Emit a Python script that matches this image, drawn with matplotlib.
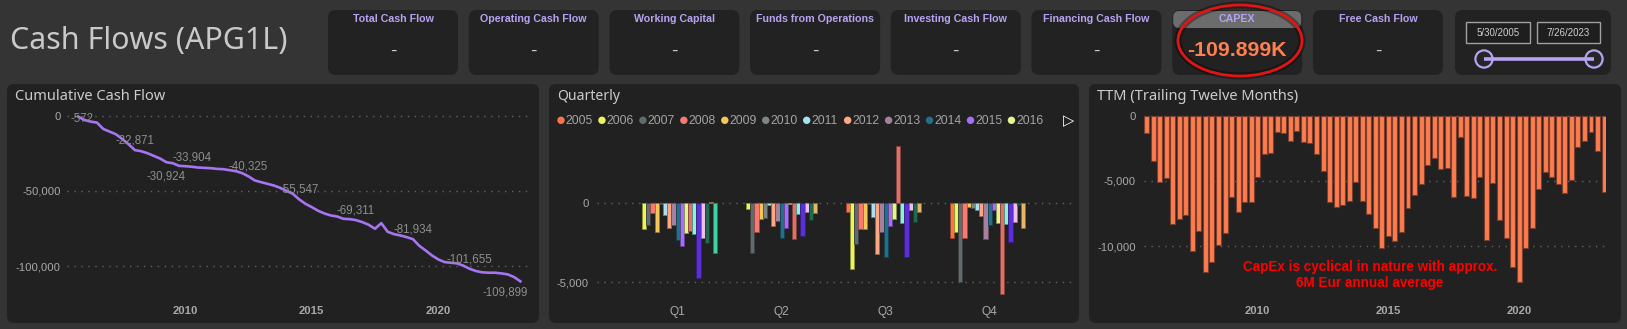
import numpy as np
import pandas as pd
import matplotlib
matplotlib.use('Agg')
import matplotlib.pyplot as plt
from matplotlib.patches import FancyBboxPatch, Ellipse, Circle, Rectangle
from matplotlib.ticker import FuncFormatter
from matplotlib.colors import to_rgb

W, H = 1627, 329

# ---- data ----
quarters = pd.period_range('2005Q4', '2023Q2', freq='Q')

cumulative = [-572, -2870, -3970, -4640, -8830, -10600, -12360, -15450, -19000, -22871,
              -23620, -24950, -26710, -28480, -30924, -31570, -33330, -33550, -33904, -34440,
              -34660, -34880, -35320, -35540, -36200, -36870, -38190, -40325, -43050, -44150,
              -45250, -46360, -47900, -49890, -51880, -55547, -58500, -60700, -63130, -64900,
              -66220, -66890, -68430, -68650, -69311, -70640, -72400, -75050, -71300, -77040,
              -78590, -79470, -80570, -81934, -86310, -89400, -92710, -95360, -97130, -97570,
              -98010, -99560, -101655, -103090, -103970, -104190, -104190, -104640, -105300, -107070,
              -109899]
label_idx = [0, 9, 14, 18, 27, 35, 44, 53, 62, 70]

ttm = [-1300, -3470, -5100, -4770, -8310, -7900, -7650, -10400, -8870, -11990,
       -11250, -9950, -9000, -6220, -7400, -6600, -6600, -4690, -2930, -2860,
       -1220, -1300, -1960, -1150, -2010, -2120, -2960, -4260, -6630, -7010,
       -6830, -6530, -5070, -6580, -7550, -8590, -10170, -9250, -9640, -8950,
       -7060, -6120, -5280, -3750, -3260, -4110, -3980, -6270, -1660, -6150,
       -6320, -4690, -9560, -5150, -7980, -9360, -11600, -12800, -10170, -8640,
       -5640, -4340, -4690, -5250, -5970, -4950, -2400, -1910, -1280, -2690,
       -5840]

years = list(range(2005, 2024))
year_colors = ['#fd7246', '#ecf55c', '#5f6b6d', '#f77a72', '#f3c75a', '#7d8586', '#a8e2f0',
               '#fda882', '#a6809f', '#23708a', '#a570f5', '#e4f590', '#e07068', '#8ff0d8',
               '#5a2fd6', '#efbfe9', '#1f6a4e', '#e8b468', '#3dd6a0']
q_names = ['Q1', 'Q2', 'Q3', 'Q4']
nan = np.nan
q1 = [nan, -1625, -1370, -590, -1790, -60, -720, -1540, -1370, -2340,
      -2700, -1900, -1770, -1920, -4750, -2170, -2530, 80, -3120]
q2 = [nan, -380, -3120, -1840, -1010, -950, -130, -1460, -1140, -2220,
      -1540, -60, -2280, -650, -2050, -530, -1080, -590, nan]
q3 = [-570, -4140, -2600, -1650, -1650, -60, -870, -3230, -1790, -3370,
      -1460, -970, 3610, -1270, -3420, -440, -1160, -530, nan]
q4 = [-2220, -1810, -4960, -2170, -230, -320, -440, -780, -2260, -1350,
      -400, -1270, -5740, -1330, -2450, -1180, -130, -1560, nan]

kpi_names = ['Total Cash Flow', 'Operating Cash Flow', 'Working Capital', 'Funds from Operations',
             'Investing Cash Flow', 'Financing Cash Flow', 'CAPEX', 'Free Cash Flow']
kpi_values = ['-', '-', '-', '-', '-', '-', '-109.899K', '-']
date_from, date_to = '5/30/2005', '7/26/2023'

page_bg = '#343434'
panel_bg = '#212121'
lav = '#b6a3f2'
grid_col = '#646464'
tick_col = '#a9a9a9'

plt.rcParams['font.family'] = ['Liberation Sans', 'DejaVu Sans']

fig = plt.figure(figsize=(W / 100, H / 100), dpi=100, facecolor=page_bg)
renderer = fig.canvas.get_renderer()

bg = fig.add_axes([0, 0, 1, 1])
bg.set_xlim(0, W)
bg.set_ylim(H, 0)
bg.axis('off')


def px_rect(x0, y0, x1, y1):
    return [x0 / W, 1 - y1 / H, (x1 - x0) / W, (y1 - y0) / H]


def lim_from(v1, p1, v2, p2, pa, pb):
    # linear value->pixel map through two known points, give values at pixels pa, pb
    s = (p2 - p1) / (v2 - v1)
    return v1 + (pa - p1) / s, v1 + (pb - p1) / s


def fit(t, width):
    w = t.get_window_extent(renderer).width
    t.set_fontsize(t.get_fontsize() * width / w)


def rbox(x0, y0, x1, y1, color, r=7, **kw):
    bg.add_patch(FancyBboxPatch((x0, y0), x1 - x0, y1 - y0,
                                boxstyle=f'round,pad=0,rounding_size={r}', fc=color, ec='none', **kw))


# ---- header ----
t = bg.text(10, 41, 'Cash Flows (APG1L)', color='#c9c9c9', fontsize=18, va='center',
            family='Noto Sans')
fit(t, 277)

card_w = 130
for i, (name, val) in enumerate(zip(kpi_names, kpi_values)):
    x0 = 328 + 140.7 * i
    rbox(x0, 10, x0 + card_w, 75, '#222222', r=8)
    cx = x0 + card_w / 2
    if name == 'CAPEX':
        rbox(x0 + 1, 11, x0 + card_w - 1, 28, '#6c6c6c', r=6)
        t = bg.text(cx, 50.5, val, color='#ff7f50', fontsize=14, fontweight='bold',
                    ha='center', va='center')
        fit(t, 99)
    else:
        bg.text(cx, 51.5, val, color='#c8c8c8', fontsize=14, ha='center', va='center')
    t = bg.text(cx, 19.5, name, color=lav, fontsize=8, fontweight='bold', ha='center',
                va='center', family=['Liberation Sans Narrow', 'Liberation Sans'])
    if name == 'Operating Cash Flow':
        card_font = t
fit(card_font, 107)
for tt in bg.texts:
    if tt.get_text() in kpi_names:
        tt.set_fontsize(card_font.get_fontsize())

# date slicer
rbox(1455, 10, 1611, 75, '#222222', r=8)
for x0, x1, s in [(1466, 1530, date_from), (1537, 1600, date_to)]:
    bg.add_patch(Rectangle((x0, 22), x1 - x0, 21, fc='#1e1e1e', ec='#a0a0a0', lw=1))
    bg.text((x0 + x1) / 2, 32.5, s, color='#cfcfcf', fontsize=7, ha='center', va='center')
bg.plot([1484, 1594], [59, 59], color=lav, lw=2.6, solid_capstyle='butt')
for cx in (1484, 1594):
    bg.add_patch(Circle((cx, 59), 8.6, fc='#262626', ec=lav, lw=1.6))

# red circle around CAPEX
bg.add_patch(Ellipse((1240, 40.5), 124, 71, fc='none', ec='black', lw=5, alpha=0.35))
bg.add_patch(Ellipse((1240, 40.5), 124, 71, fc='none', ec='#e41414', lw=2))

# ---- panels ----
panels = [(7, 539, 'Cumulative Cash Flow', 151), (549, 1079, 'Quarterly', 63),
          (1089, 1621, 'TTM (Trailing Twelve Months)', 201)]
for x0, x1, title, tw in panels:
    rbox(x0, 84, x1, 323, panel_bg, r=7)
    t = bg.text(x0 + 8.5, 96, title, color='#cccccc', fontsize=10, va='center', family='Noto Sans')
    fit(t, tw)


def style(ax, yticks, ypad):
    ax.set_facecolor('none')
    for sp in ax.spines.values():
        sp.set_visible(False)
    ax.set_yticks(yticks)
    ax.yaxis.set_major_formatter(FuncFormatter(lambda v, p: f'{v:,.0f}'))
    ax.tick_params(length=0, colors=tick_col, labelsize=8.1)
    ax.tick_params(axis='y', pad=ypad)
    ax.tick_params(axis='x', pad=4)
    for lb in ax.get_xticklabels():
        lb.set_fontweight('bold')
    ax.yaxis.grid(True, linestyle=(0, (1, 4)), color=grid_col, lw=1)
    ax.set_axisbelow(True)


x_q = np.array([q.year + (q.quarter - 1) / 4 for q in quarters])

# cumulative
ax1 = fig.add_axes(px_rect(66.7, 105, 528, 300))
ax1.plot(x_q, cumulative, color='#a774f2', lw=1.9, zorder=3)
ax1.set_xlim(*lim_from(2010, 185.4, 2015, 311.8, 66.7, 528))
ax1.set_ylim(*lim_from(0, 115.6, -100000, 266.4, 300, 105))
ax1.set_xticks([2010, 2015, 2020])
style(ax1, [0, -50000, -100000], 4.4)
for i in label_idx:
    v = cumulative[i]
    off = (0, 7)
    if i == 14:
        off = (0, -10)
    elif i == 0:
        off = (3, -2)
    elif i == len(cumulative) - 1:
        off = (-11, -8)
    ax1.annotate(f'{v:,.0f}', (x_q[i], v), xytext=off, textcoords='offset points',
                 ha='center', va='center', fontsize=8.3, color='#8e8e8e', zorder=4)

# quarterly clustered bars
ax2 = fig.add_axes(px_rect(597, 135, 1072, 300))
bw = 4.17 / 104
for j, (yr, col) in enumerate(zip(years, year_colors)):
    vals = [q1[j], q2[j], q3[j], q4[j]]
    edge = tuple(c * 0.6 for c in to_rgb(col))
    ax2.bar(np.arange(4) + (j - 9) * bw, vals, bw, color=col, edgecolor=edge, lw=0.6, zorder=3)
ax2.set_xlim(*lim_from(0, 677.6, 1, 781.6, 597, 1072))
ax2.set_ylim(*lim_from(0, 203.4, -5000, 282.3, 300, 135))
ax2.set_xticks(range(4))
ax2.set_xticklabels(q_names)
style(ax2, [0, -5000], 6)
for lb in ax2.get_xticklabels():
    lb.set_fontweight('normal')
    lb.set_fontsize(8.6)

# legend of quarterly chart
for j in range(12):
    lx = 561 + 40.95 * j
    bg.add_patch(Circle((lx, 120.3), 3.7, fc=year_colors[j], ec='none'))
    bg.text(lx + 4.5, 120.8, str(years[j]), color='#a4a4a4', fontsize=8.7, va='center')
bg.text(1069, 120.5, '\u25b7', color='white', fontsize=10.5, ha='center', va='center',
        family='DejaVu Sans', fontweight='bold')

# TTM bars
ax3 = fig.add_axes(px_rect(1144.3, 108, 1606, 300))
ax3.bar(x_q, ttm, 0.19, color='#fd7c4f', edgecolor='#7a3f2c', lw=0.8, zorder=3)
ax3.set_xlim(*lim_from(2010, 1257.7, 2015, 1388.4, 1144.3, 1606))
ax3.set_ylim(*lim_from(0, 115.7, -10000, 246, 300, 108))
ax3.set_xticks([2010, 2015, 2020])
style(ax3, [0, -5000, -10000], 6.2)

note1 = fig.text(1370 / W, 1 - 267 / H, 'CapEx is cyclical in nature with approx.', color='#ff0000',
                 fontsize=9.5, fontweight='bold', ha='center', va='center')
note2 = fig.text(1370 / W, 1 - 283 / H, '6M Eur annual average', color='#ff0000',
                 fontsize=9.5, fontweight='bold', ha='center', va='center')
fit(note1, 255)
note2.set_fontsize(note1.get_fontsize())

fig.savefig('out.png', dpi=100, facecolor=page_bg)
